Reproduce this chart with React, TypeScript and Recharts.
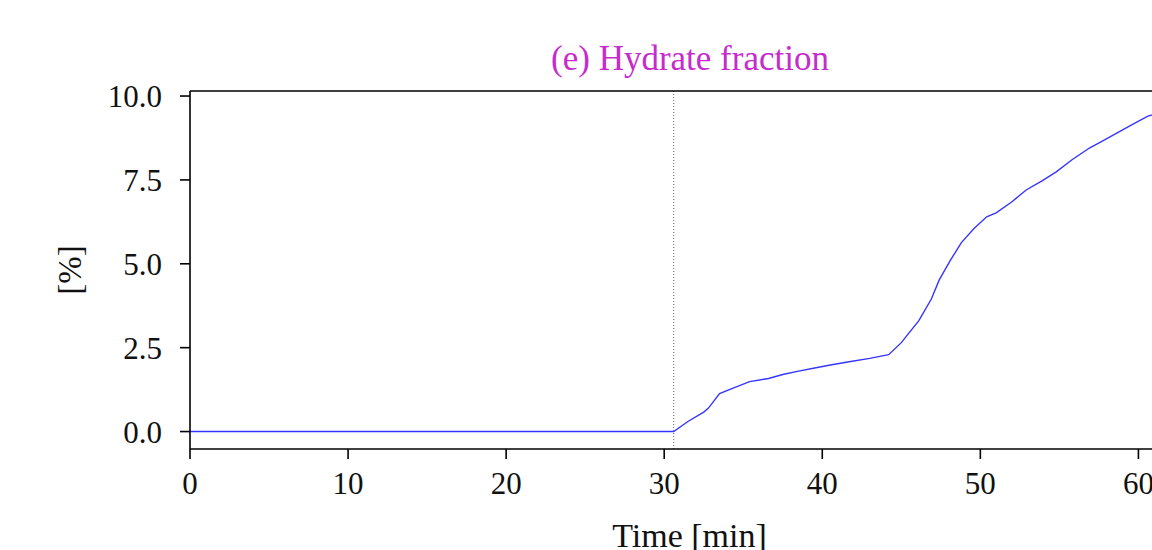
import { LineChart, Line, XAxis, YAxis, ReferenceLine, Label } from 'recharts'

// time [min] and hydrate fraction [%]
const times = [
  0, 30.6, 31.5, 32.5, 32.8, 33.5, 34.4, 35.4, 36.6, 37.5, 38.5, 39.6, 40.6, 41.7, 43.0, 44.2,
  45.0, 45.5, 46.1, 46.9, 47.4, 48.1, 48.8, 49.6, 50.4, 51.0, 52.0, 52.9, 53.9, 54.8, 55.8,
  56.9, 57.8, 58.6, 59.6, 60.6, 61.8, 63.0,
]
const hydrate = [
  0, 0, 0.3, 0.58, 0.7, 1.13, 1.3, 1.49, 1.58, 1.7, 1.8, 1.9, 1.99, 2.08, 2.18, 2.29,
  2.65, 2.95, 3.3, 3.95, 4.52, 5.1, 5.63, 6.05, 6.4, 6.52, 6.85, 7.2, 7.47, 7.74, 8.1,
  8.45, 8.68, 8.89, 9.15, 9.4, 9.55, 9.68,
]
const xTicks = [0, 10, 20, 30, 40, 50, 60]
const yTicks = [0, 2.5, 5, 7.5, 10]
const onsetTime = 30.6
const title = '(e) Hydrate fraction'

const data = times.map((t, i) => ({ t, v: hydrate[i] }))

const FONT = '"Liberation Serif", "DejaVu Serif", serif'
const tickStyle = { fontSize: 31, fill: '#111', fontFamily: FONT }

export default function App() {
  return (
    <div
      style={{
        position: 'fixed',
        left: 0,
        top: 0,
        width: 1152,
        height: 550,
        overflow: 'hidden',
        background: '#fff',
      }}
    >
      <div
        style={{
          position: 'absolute',
          left: 190,
          width: 1000,
          top: 39,
          textAlign: 'center',
          fontFamily: FONT,
          fontSize: 35,
          lineHeight: '40px',
          color: '#c62ccc',
        }}
      >
        {title}
      </div>
      <LineChart
        width={1250}
        height={600}
        data={data}
        margin={{ top: 90, right: 60, left: 90, bottom: 51 }}
      >
        <XAxis
          dataKey="t"
          type="number"
          domain={[0, 63.2]}
          allowDataOverflow
          ticks={xTicks}
          height={100}
          tick={tickStyle}
          tickSize={10}
          tickMargin={13}
          axisLine={{ stroke: '#000', strokeWidth: 1.6 }}
          tickLine={{ stroke: '#000', strokeWidth: 1.6 }}
        >
          <Label
            content={(props: any) => {
              const vb = props.viewBox
              return (
                <text
                  x={vb.x + vb.width / 2}
                  y={vb.y + 98}
                  textAnchor="middle"
                  fontSize={34}
                  fontFamily={FONT}
                  fill="#111"
                >
                  Time [min]
                </text>
              )
            }}
          />
        </XAxis>
        <XAxis
          xAxisId="top"
          dataKey="t"
          type="number"
          orientation="top"
          domain={[0, 63.2]}
          allowDataOverflow
          height={1}
          tick={false}
          tickLine={false}
          axisLine={{ stroke: '#000', strokeWidth: 1.6 }}
        />
        <YAxis
          type="number"
          domain={[-0.52, 10.15]}
          allowDataOverflow
          ticks={yTicks}
          width={100}
          tick={tickStyle}
          tickFormatter={(v: number) => v.toFixed(1)}
          tickSize={10}
          tickMargin={18}
          axisLine={{ stroke: '#000', strokeWidth: 1.6 }}
          tickLine={{ stroke: '#000', strokeWidth: 1.6 }}
        >
          <Label
            content={(props: any) => {
              const vb = props.viewBox
              const cx = vb.x - 20
              const cy = vb.y + vb.height / 2
              return (
                <text
                  x={cx}
                  y={cy}
                  transform={`rotate(-90, ${cx}, ${cy})`}
                  textAnchor="middle"
                  dominantBaseline="central"
                  fontSize={33}
                  fontFamily={FONT}
                  fill="#111"
                >
                  [%]
                </text>
              )
            }}
          />
        </YAxis>
        <YAxis
          yAxisId="right"
          orientation="right"
          domain={[-0.52, 10.15]}
          width={1}
          tick={false}
          tickLine={false}
          axisLine={{ stroke: '#000', strokeWidth: 1.6 }}
        />
        <ReferenceLine
          x={onsetTime}
          stroke="#555"
          strokeWidth={0.9}
          strokeDasharray="1 2"
        />
        <Line
          type="linear"
          dataKey="v"
          stroke="#3535ff"
          strokeWidth={1.4}
          dot={false}
          isAnimationActive={false}
        />
      </LineChart>
    </div>
  )
}
